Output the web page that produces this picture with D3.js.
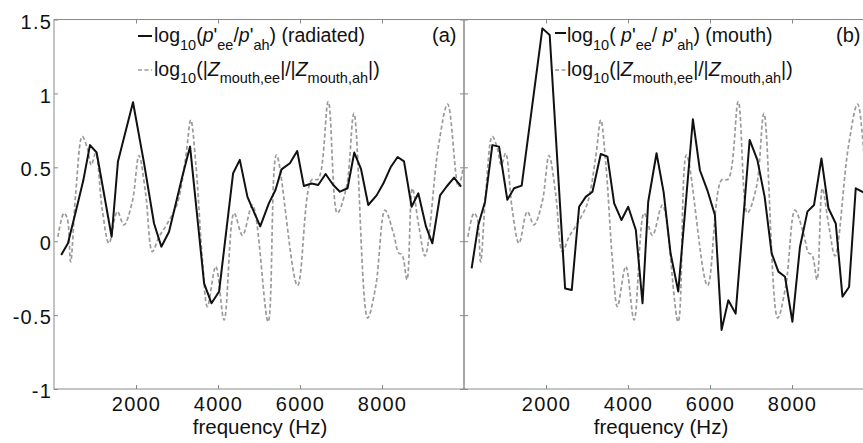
<!DOCTYPE html>
<html><head><meta charset="utf-8">
<script src="https://cdn.jsdelivr.net/npm/d3@7"></script>
<style>
html,body{margin:0;padding:0;background:#fff;}
svg{display:block;}
text{font-family:"Liberation Sans",Arial,Helvetica,sans-serif;fill:#111;white-space:pre;}
</style></head>
<body>
<svg id="chart" width="863" height="443"></svg>
<script>
// ---- data ----
const xTicks = [2000, 4000, 6000, 8000];
const xTickLabels = ["2000", "4000", "6000", "8000"];
const yTicks = [-1, -0.5, 0, 0.5, 1, 1.5];
const yTickLabels = ["-1", "-0.5", "0", "0.5", "1", "1.5"];
const xLabel = "frequency (Hz)";
const panelLabels = ["(a)", "(b)"];

// dashed series: log10(|Z_mouth,ee|/|Z_mouth,ah|) (shared by both panels)
const impFreq = [95,242,323,405,528,689,811,909,1015,1178,1341,1544,1707,1911,2073,2236,2399,2562,2765,3009,3213,3336,3458,3620,3742,3946,4149,4393,4597,4841,5223,5426,5939,6281,6444,6689,6909,7135,7316,7648,7850,8073,8283,8406,8487,8610,8740,8900,9050,9375,9602,9863,9985];
const impVal  = [0.03,0.19,0.155,-0.14,0.32,0.71,0.63,0.515,0.595,0.21,-0.014,0.2,0.11,0.27,0.58,0.32,-0.07,0.03,0.12,0.256,0.57,0.82,0.527,-0.127,-0.443,-0.17,-0.533,0.19,0.04,0.245,-0.545,0.583,-0.30,0.414,0.42,0.944,0.19,0.37,0.865,-0.52,-0.3,0.21,0.05,-0.08,-0.09,-0.26,0.357,0.1,-0.1,0.64,0.928,0.37,0.5];

// solid series, panel (a): radiated
const radFreq = [176,340,530,714,877,1040,1406,1560,1927,2195,2440,2618,2806,3131,3319,3661,3841,4027,4369,4532,4718,5030,5240,5402,5549,5753,5932,6095,6281,6444,6624,6811,6974,7160,7324,7487,7665,7869,8032,8210,8381,8537,8723,8886,9074,9228,9416,9577,9758,9929];
const radVal  = [-0.093,-0.014,0.2,0.41,0.65,0.60,0.03,0.54,0.94,0.53,0.12,-0.037,0.064,0.44,0.64,-0.285,-0.42,-0.34,0.46,0.55,0.30,0.10,0.256,0.346,0.486,0.527,0.61,0.373,0.39,0.38,0.455,0.38,0.335,0.358,0.60,0.49,0.245,0.31,0.39,0.50,0.57,0.54,0.233,0.324,0.098,-0.014,0.31,0.37,0.43,0.37];

// solid series, panel (b): mouth
const mouFreq = [186,349,513,691,855,1057,1221,1407,1912,2090,2466,2628,2808,2969,3133,3336,3499,3663,3841,4005,4191,4354,4493,4696,4870,5038,5226,5583,5754,5934,6120,6283,6447,6625,6967,7155,7333,7504,7668,7829,8010,8195,8376,8537,8718,8889,9067,9231,9392,9555,9743,9920];
const mouVal  = [-0.184,0.11,0.267,0.65,0.64,0.28,0.358,0.376,1.44,1.395,-0.32,-0.33,0.233,0.30,0.335,0.59,0.572,0.256,0.143,0.233,0.076,-0.42,0.267,0.595,0.33,-0.082,-0.34,0.825,0.48,0.346,0.177,-0.60,-0.40,-0.49,0.685,0.55,0.30,-0.082,-0.206,-0.24,-0.545,-0.037,0.2,0.245,0.56,0.223,0.12,-0.375,-0.31,0.358,0.33,0.3];

// ---- layout ----
const svg = d3.select("#chart");
const yTop = 19.5, yBottom = 389, pw = 410;
const panels = [
  {left: 54, solidF: radFreq, solidV: radVal, label: panelLabels[0], yLabels: true,
   leg1: [{t:"log"},{t:"10",sub:1},{t:"("},{t:"p",it:1},{t:"'"},{t:"ee",sub:1},{t:"/"},{t:"p",it:1},{t:"'"},{t:"ah",sub:1},{t:") (radiated)"}],
   legX: 154, sampleX: [138, 152]},
  {left: 464, solidF: mouFreq, solidV: mouVal, label: panelLabels[1], yLabels: false,
   leg1: [{t:"log"},{t:"10",sub:1},{t:"( "},{t:"p",it:1},{t:"'"},{t:"ee",sub:1},{t:"/ "},{t:"p",it:1},{t:"'"},{t:"ah",sub:1},{t:") (mouth)"}],
   legX: 567, sampleX: [555, 566]}
];
const leg2 = [{t:"log"},{t:"10",sub:1},{t:"(|"},{t:"Z",it:1},{t:"mouth,ee",sub:1},{t:"|/|"},{t:"Z",it:1},{t:"mouth,ah",sub:1},{t:"|)"}];

const y = d3.scaleLinear().domain([-1, 1.5]).range([yBottom, yTop]);
const axisColor = "#8a8a8a";

function rich(g, x, yb, parts, fs) {
  const t = g.append("text").attr("x", x).attr("y", yb).attr("font-size", fs);
  let cur = 0;
  parts.forEach(p => {
    const target = p.sub ? 7.5 : 0;
    const ts = t.append("tspan").attr("dy", target - cur).text(p.t);
    cur = target;
    if (p.sub) ts.attr("font-size", 14.5);
    if (p.it) ts.attr("font-style", "italic");
  });
  return t;
}

panels.forEach((P, i) => {
  const x = d3.scaleLinear().domain([0, 10000]).range([P.left, P.left + pw]);
  const g = svg.append("g");

  const cid = "clip" + i;
  svg.append("clipPath").attr("id", cid).append("rect")
    .attr("x", P.left).attr("y", yTop).attr("width", pw).attr("height", yBottom - yTop);

  g.append("rect").attr("x", P.left).attr("y", yTop).attr("width", pw).attr("height", yBottom - yTop)
    .attr("fill", "none").attr("stroke", axisColor).attr("stroke-width", 1);

  const styleAxis = a => {
    a.select(".domain").remove();
    a.selectAll(".tick line").attr("stroke", axisColor);
    a.selectAll("text").attr("font-size", 20).attr("fill", "#111")
      .attr("font-family", '"Liberation Sans",Arial,Helvetica,sans-serif')
      .style("letter-spacing", "1.2px");
  };
  const ax = g.append("g").attr("transform", `translate(0,${yBottom})`)
    .call(d3.axisBottom(x).tickValues(xTicks).tickFormat((d, k) => xTickLabels[k]).tickSize(-4).tickSizeOuter(0).tickPadding(8));
  styleAxis(ax);
  ax.selectAll("text").attr("dy", "0.68em");
  const axT = g.append("g").attr("transform", `translate(0,${yTop})`)
    .call(d3.axisTop(x).tickValues(xTicks).tickFormat("").tickSize(-4).tickSizeOuter(0));
  styleAxis(axT);
  const ay = g.append("g").attr("transform", `translate(${P.left},0)`)
    .call(d3.axisLeft(y).tickValues(yTicks).tickFormat((d, k) => P.yLabels ? yTickLabels[k] : "").tickSize(-4).tickSizeOuter(0).tickPadding(2));
  styleAxis(ay);
  ay.selectAll("text").attr("dy", "0.43em");
  const ayR = g.append("g").attr("transform", `translate(${P.left + pw},0)`)
    .call(d3.axisRight(y).tickValues(yTicks).tickFormat("").tickSize(-4).tickSizeOuter(0));
  styleAxis(ayR);

  g.append("text").attr("x", i === 0 ? 260 : 661).attr("y", 433.5).attr("text-anchor", "middle")
    .attr("font-size", 20.5).text(xLabel);

  const dg = g.append("g").attr("clip-path", `url(#${cid})`);
  const dashData = impFreq.map((f, k) => [f, impVal[k]]);
  const solidData = P.solidF.map((f, k) => [f, P.solidV[k]]);
  dg.append("path").datum(dashData)
    .attr("d", d3.line().x(d => x(d[0])).y(d => y(d[1])).curve(d3.curveCatmullRom.alpha(0.5)))
    .attr("fill", "none").attr("stroke", "#9a9a9a").attr("stroke-width", 1.7).attr("stroke-dasharray", "4,2.5");
  dg.append("path").datum(solidData)
    .attr("d", d3.line().x(d => x(d[0])).y(d => y(d[1])))
    .attr("fill", "none").attr("stroke", "#111").attr("stroke-width", 2).attr("stroke-linejoin", "round");

  const sy1 = i === 0 ? 36 : 33, sy2 = 70;
  g.append("line").attr("x1", P.sampleX[0]).attr("x2", P.sampleX[1]).attr("y1", sy1).attr("y2", sy1)
    .attr("stroke", "#111").attr("stroke-width", 2);
  g.append("line").attr("x1", P.sampleX[0]).attr("x2", P.sampleX[1]).attr("y1", sy2).attr("y2", sy2)
    .attr("stroke", "#9a9a9a").attr("stroke-width", 1.7).attr("stroke-dasharray", "4,2.5");
  rich(g, P.legX, 42, P.leg1, 19.5);
  rich(g, P.legX, 75.5, leg2, 19.5);

  g.append("text").attr("x", i === 0 ? 432 : 836).attr("y", 42).attr("font-size", 20).text(P.label);
});
</script>
</body></html>
